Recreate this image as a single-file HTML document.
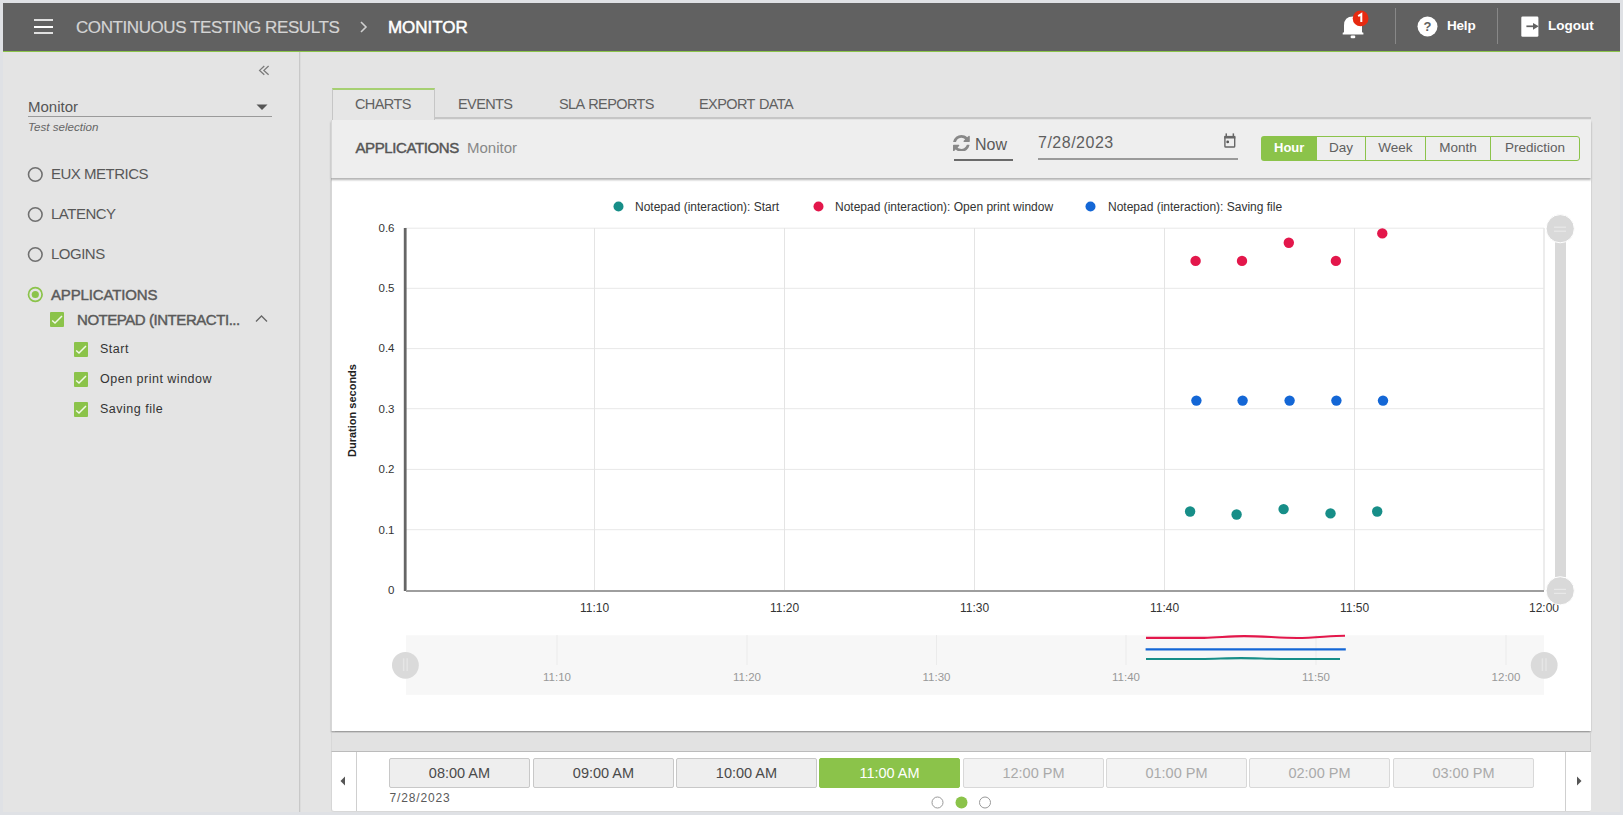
<!DOCTYPE html>
<html><head><meta charset="utf-8">
<style>
*{margin:0;padding:0;box-sizing:border-box}
html,body{width:1623px;height:815px;overflow:hidden;background:#dfe1e5;font-family:"Liberation Sans",sans-serif}
.a{position:absolute}
.t{position:absolute;white-space:nowrap;line-height:1}
#content{position:absolute;left:3px;top:52px;width:1617px;height:760px;background:#e4e4e4}
#hdr{position:absolute;left:3px;top:3px;width:1617px;height:47.5px;background:#616161}
#hline{position:absolute;left:3px;top:50.5px;width:1617px;height:1.7px;background:#8bc34a}
#sdiv{position:absolute;left:299px;top:52px;width:2px;height:760px;background:#c8c8c8;border-right:1px solid #dcdcdc}
.radio{position:absolute;width:15px;height:15px;border:1.5px solid #6a6a6a;border-radius:50%}
.side-t{font-size:15px;letter-spacing:-0.5px;color:#585858}
.cb{position:absolute;width:14px;height:15px;background:#8bc34a;border-radius:1px}
.cb svg{position:absolute;left:0;top:0}
.tab{position:absolute;top:96px;font-size:14.5px;letter-spacing:-0.6px;word-spacing:1px;color:#616161}
.btn{position:absolute;top:136px;height:25px;border:1.5px solid #8bc34a;border-left:none;background:#eeeeee;font-size:13.5px;color:#606060;text-align:center;line-height:21.5px}
.tb{position:absolute;top:758px;width:141px;height:30px;border:1px solid #c8c8c8;border-radius:2px;background:#eeeeee;font-size:14.5px;color:#4a4a4a;text-align:center;line-height:28px}
.tb.dis{color:#aaa;background:#f3f3f3;border-color:#d8d8d8}
</style></head><body>
<div id="content"></div>
<div id="hdr">
  <div class="a" style="left:31px;top:15.6px;width:19px;height:2px;background:#e0e0e0"></div>
  <div class="a" style="left:31px;top:22.5px;width:19px;height:2px;background:#fff"></div>
  <div class="a" style="left:31px;top:29.4px;width:19px;height:2px;background:#e0e0e0"></div>
  <div class="t" style="left:73px;top:16px;font-size:17px;letter-spacing:-0.42px;-webkit-text-stroke:0.2px #d4d4d4;color:#d4d4d4">CONTINUOUS TESTING RESULTS</div>
  <svg class="a" style="left:355px;top:17px" width="12" height="14" viewBox="0 0 12 14"><path d="M3 2 L8 7 L3 12" fill="none" stroke="#cfcfcf" stroke-width="1.6"/></svg>
  <div class="t" style="left:385px;top:16px;font-size:17px;letter-spacing:-0.05px;-webkit-text-stroke:0.5px #fff;color:#fff">MONITOR</div>
</div>
<div id="hline"></div>
<div id="sdiv"></div>

<!-- header right -->
<svg class="a" style="left:1335px;top:6px" width="40" height="40" viewBox="1335 6 40 40">
  <path d="M1344 32.2 L1344 25.5 Q1344 16.5 1353 16.5 Q1362 16.5 1362 25.5 L1362 32.2 L1363.4 32.7 L1363.4 34.4 L1342.7 34.4 L1342.7 32.7 Z" fill="#fff"/>
  <rect x="1350.6" y="35.6" width="4.7" height="2.6" rx="1.2" fill="#fff"/>
  <circle cx="1360.6" cy="18.4" r="7.9" fill="#e62a10"/>
  <path d="M1358.2 16.2 L1361.3 14.2 L1361.3 22" fill="none" stroke="#fff" stroke-width="2" stroke-linejoin="miter"/>
</svg>
<div class="a" style="left:1395px;top:8px;width:1px;height:36px;background:#888"></div>
<svg class="a" style="left:1417px;top:16px" width="22" height="22" viewBox="0 0 22 22">
  <circle cx="10.5" cy="10.5" r="10" fill="#fff"/>
  <text x="10.6" y="15" font-size="13" font-weight="bold" fill="#616161" text-anchor="middle" font-family="Liberation Sans">?</text>
</svg>
<div class="t" style="left:1447px;top:19px;font-size:13.5px;font-weight:bold;letter-spacing:-0.2px;color:#fff">Help</div>
<div class="a" style="left:1497px;top:8px;width:1px;height:36px;background:#888"></div>
<svg class="a" style="left:1520px;top:15px" width="20" height="23" viewBox="0 0 20 23">
  <rect x="1.3" y="1.5" width="17.1" height="20.2" rx="1.3" fill="#fff"/>
  <path d="M6.4 11.3 L14 11.3" fill="none" stroke="#616161" stroke-width="1.7"/>
  <path d="M13 7.9 L18.7 11.3 L13 14.7 Z" fill="#616161"/>
</svg>
<div class="t" style="left:1548px;top:19px;font-size:13.5px;font-weight:bold;color:#fff">Logout</div>

<!-- sidebar -->
<svg class="a" style="left:256px;top:62px" width="16" height="16" viewBox="256 62 16 16"><path d="M264.3 66 L259.6 70.4 L264.3 74.8 M268.6 66 L263.9 70.4 L268.6 74.8" fill="none" stroke="#7a7a7a" stroke-width="1.3"/></svg>
<div class="t" style="left:28px;top:99px;font-size:15px;color:#555">Monitor</div>
<svg class="a" style="left:256px;top:104px" width="12" height="7" viewBox="0 0 12 7"><path d="M0.5 0.5 L11.5 0.5 L6 6 Z" fill="#555"/></svg>
<div class="a" style="left:28px;top:115.5px;width:244px;height:1px;background:#9a9a9a"></div>
<div class="t" style="left:28px;top:121px;font-size:11.6px;font-style:italic;color:#666">Test selection</div>

<svg class="a" style="left:26px;top:164.5px" width="19" height="19" viewBox="0 0 19 19"><circle cx="9.3" cy="9.5" r="6.8" fill="none" stroke="#707070" stroke-width="1.6"/></svg>
<div class="t side-t" style="left:51px;top:166px">EUX METRICS</div>
<svg class="a" style="left:26px;top:204.5px" width="19" height="19" viewBox="0 0 19 19"><circle cx="9.3" cy="9.5" r="6.8" fill="none" stroke="#707070" stroke-width="1.6"/></svg>
<div class="t side-t" style="left:51px;top:206px">LATENCY</div>
<svg class="a" style="left:26px;top:244.5px" width="19" height="19" viewBox="0 0 19 19"><circle cx="9.3" cy="9.5" r="6.8" fill="none" stroke="#707070" stroke-width="1.6"/></svg>
<div class="t side-t" style="left:51px;top:246px">LOGINS</div>
<svg class="a" style="left:26px;top:284.7px" width="19" height="19" viewBox="0 0 19 19"><circle cx="9.3" cy="9.5" r="6.8" fill="none" stroke="#8bc34a" stroke-width="1.7"/><circle cx="9.3" cy="9.5" r="3.6" fill="#8bc34a"/></svg>
<div class="t side-t" style="left:51px;top:286.5px;letter-spacing:-0.15px;-webkit-text-stroke:0.45px #5a5a5a;color:#5a5a5a">APPLICATIONS</div>

<div class="cb" style="left:50px;top:312px"><svg width="14" height="15" viewBox="0 0 14 15"><path d="M2.2 8.4 L5 11.1 L12 3.9" fill="none" stroke="#f2f9e8" stroke-width="1.4"/></svg></div>
<div class="t side-t" style="left:77px;top:311.5px;letter-spacing:-0.45px;-webkit-text-stroke:0.45px #5a5a5a;color:#5a5a5a">NOTEPAD (INTERACTI...</div>
<svg class="a" style="left:255px;top:314px" width="13" height="9" viewBox="0 0 13 9"><path d="M1 7.5 L6.5 2 L12 7.5" fill="none" stroke="#666" stroke-width="1.3"/></svg>

<div class="cb" style="left:74px;top:342px"><svg width="14" height="15" viewBox="0 0 14 15"><path d="M2.2 8.4 L5 11.1 L12 3.9" fill="none" stroke="#f2f9e8" stroke-width="1.4"/></svg></div>
<div class="t" style="left:100px;top:343px;font-size:12.5px;letter-spacing:0.5px;color:#333">Start</div>
<div class="cb" style="left:74px;top:372px"><svg width="14" height="15" viewBox="0 0 14 15"><path d="M2.2 8.4 L5 11.1 L12 3.9" fill="none" stroke="#f2f9e8" stroke-width="1.4"/></svg></div>
<div class="t" style="left:100px;top:373px;font-size:12.5px;letter-spacing:0.5px;color:#333">Open print window</div>
<div class="cb" style="left:74px;top:402px"><svg width="14" height="15" viewBox="0 0 14 15"><path d="M2.2 8.4 L5 11.1 L12 3.9" fill="none" stroke="#f2f9e8" stroke-width="1.4"/></svg></div>
<div class="t" style="left:100px;top:403px;font-size:12.5px;letter-spacing:0.5px;color:#333">Saving file</div>

<!-- tabs -->
<div class="a" style="left:332px;top:117px;width:1259px;height:1.5px;background:#c6c6c6"></div>
<div class="a" style="left:331.5px;top:88px;width:103px;height:31.5px;background:#e6e6e6;border:1.5px solid #c6c6c6;border-top:2px solid #a6d072;border-bottom:none"></div>
<div class="t tab" style="left:355px;top:96.5px">CHARTS</div>
<div class="t tab" style="left:458px;top:97px">EVENTS</div>
<div class="t tab" style="left:559px;top:97px">SLA REPORTS</div>
<div class="t tab" style="left:699px;top:97px">EXPORT DATA</div>

<!-- panel header -->
<div class="a" style="left:331px;top:178px;width:1260px;height:552.5px;background:#fff;border-left:1px solid #d6d6d6;box-shadow:0 1.5px 1.5px rgba(0,0,0,0.3)"></div>
<div class="a" style="left:331px;top:119.5px;width:1260px;height:58px;background:#eeeeee;border-left:1px solid #d6d6d6;box-shadow:0 2px 2px rgba(0,0,0,0.3)"></div>
<div class="t" style="left:355.5px;top:140.3px;font-size:15px;letter-spacing:-0.4px;-webkit-text-stroke:0.45px #555;color:#555">APPLICATIONS</div>
<div class="t" style="left:467px;top:140px;font-size:15px;color:#888">Monitor</div>

<svg class="a" style="left:953.3px;top:134.6px" width="16.8" height="16.8" viewBox="0 0 1536 1536"><path fill="#888" d="M1511 928q0 5-1 7-64 268-268 434.5t-478 166.5q-146 0-282.5-55t-243.5-157l-129 129q-19 19-45 19t-45-19-19-45v-448q0-26 19-45t45-19h448q26 0 45 19t19 45-19 45l-137 137q71 66 161 102t187 36q134 0 250-65t186-179q11-17 53-117 8-23 30-23h192q13 0 22.5 9.5t9.5 22.5zm25-800v448q0 26-19 45t-45 19h-448q-26 0-45-19t-19-45 19-45l138-138q-148-137-349-137-134 0-250 65t-186 179q-11 17-53 117-8 23-30 23h-199q-13 0-22.5-9.5t-9.5-22.5v-7q65-268 270-434.5t480-166.5q146 0 284 55.5t245 156.5l130-129q19-19 45-19t45 19 19 45z"/></svg>
<div class="t" style="left:975px;top:137px;font-size:16px;color:#5a5a5a">Now</div>
<div class="a" style="left:954px;top:159.3px;width:59px;height:1.7px;background:#6a6a6a"></div>
<div class="t" style="left:1038px;top:134.5px;font-size:16px;letter-spacing:0.5px;color:#5e5e5e">7/28/2023</div>
<div class="a" style="left:1038px;top:158.2px;width:200px;height:1.7px;background:#9a9a9a"></div>
<svg class="a" style="left:1222px;top:132px" width="15" height="17" viewBox="0 0 15 17">
  <rect x="2.9" y="4.6" width="9.8" height="10.4" rx="0.8" fill="none" stroke="#666" stroke-width="1.4"/>
  <rect x="2.2" y="3.9" width="11.2" height="2.6" fill="#666"/>
  <rect x="3.5" y="1.4" width="1.5" height="3" fill="#666"/><rect x="10.6" y="1.4" width="1.5" height="3" fill="#666"/>
  <circle cx="5.7" cy="9.9" r="1.4" fill="#555"/>
</svg>

<!-- button group -->
<div class="a" style="left:1261px;top:136px;width:56px;height:25px;background:#8bc34a;border-radius:3px 0 0 3px"></div>
<div class="t" style="left:1274px;top:140.8px;font-size:13px;font-weight:bold;color:#fff">Hour</div>
<div class="btn" style="left:1317px;width:49px">Day</div>
<div class="btn" style="left:1365px;width:61px;border-left:1.5px solid #8bc34a">Week</div>
<div class="btn" style="left:1425px;width:66px;border-left:1.5px solid #8bc34a">Month</div>
<div class="btn" style="left:1490px;width:90px;border-left:1.5px solid #8bc34a;border-radius:0 3px 3px 0">Prediction</div>

<!-- chart -->
<svg class="a" style="left:0;top:0" width="1623" height="815" viewBox="0 0 1623 815" font-family="Liberation Sans">
<line x1="405" y1="228.2" x2="1544" y2="228.2" stroke="#e8e8e8" stroke-width="1"/>
<line x1="405" y1="288.3" x2="1544" y2="288.3" stroke="#e8e8e8" stroke-width="1"/>
<line x1="405" y1="348.6" x2="1544" y2="348.6" stroke="#e8e8e8" stroke-width="1"/>
<line x1="405" y1="408.7" x2="1544" y2="408.7" stroke="#e8e8e8" stroke-width="1"/>
<line x1="405" y1="469.4" x2="1544" y2="469.4" stroke="#e8e8e8" stroke-width="1"/>
<line x1="405" y1="529.7" x2="1544" y2="529.7" stroke="#e8e8e8" stroke-width="1"/>
<line x1="594.5" y1="228" x2="594.5" y2="590" stroke="#e4e4e4" stroke-width="1"/>
<line x1="784.5" y1="228" x2="784.5" y2="590" stroke="#e4e4e4" stroke-width="1"/>
<line x1="974.5" y1="228" x2="974.5" y2="590" stroke="#e4e4e4" stroke-width="1"/>
<line x1="1164.5" y1="228" x2="1164.5" y2="590" stroke="#e4e4e4" stroke-width="1"/>
<line x1="1354.5" y1="228" x2="1354.5" y2="590" stroke="#e4e4e4" stroke-width="1"/>
<line x1="1544" y1="228" x2="1544" y2="590" stroke="#e8e8e8" stroke-width="1.6"/>
<line x1="405.2" y1="228" x2="405.2" y2="591" stroke="#666" stroke-width="2.8"/>
<line x1="406" y1="591" x2="1544" y2="591" stroke="#9e9e9e" stroke-width="1.8"/>
<text x="394.5" y="232.0" font-size="11.5" fill="#333" text-anchor="end">0.6</text>
<text x="394.5" y="292.1" font-size="11.5" fill="#333" text-anchor="end">0.5</text>
<text x="394.5" y="352.4" font-size="11.5" fill="#333" text-anchor="end">0.4</text>
<text x="394.5" y="412.5" font-size="11.5" fill="#333" text-anchor="end">0.3</text>
<text x="394.5" y="473.2" font-size="11.5" fill="#333" text-anchor="end">0.2</text>
<text x="394.5" y="533.5" font-size="11.5" fill="#333" text-anchor="end">0.1</text>
<text x="394.5" y="593.9" font-size="11.5" fill="#333" text-anchor="end">0</text>
<text x="594.5" y="612" font-size="12" fill="#333" text-anchor="middle">11:10</text>
<text x="784.5" y="612" font-size="12" fill="#333" text-anchor="middle">11:20</text>
<text x="974.5" y="612" font-size="12" fill="#333" text-anchor="middle">11:30</text>
<text x="1164.5" y="612" font-size="12" fill="#333" text-anchor="middle">11:40</text>
<text x="1354.5" y="612" font-size="12" fill="#333" text-anchor="middle">11:50</text>
<text x="1544" y="612" font-size="12" fill="#333" text-anchor="middle">12:00</text>
<text transform="translate(355.6,410.5) rotate(-90)" font-size="11" font-weight="bold" fill="#222" text-anchor="middle">Duration seconds</text>
<circle cx="618.5" cy="206.5" r="5" fill="#178e88"/>
<text x="635" y="210.5" font-size="12" fill="#333">Notepad (interaction): Start</text>
<circle cx="818.5" cy="206.5" r="5" fill="#e3174b"/>
<text x="835" y="210.5" font-size="12" fill="#333">Notepad (interaction): Open print window</text>
<circle cx="1090.5" cy="206.5" r="5" fill="#1467d6"/>
<text x="1108" y="210.5" font-size="12" fill="#333">Notepad (interaction): Saving file</text>
<circle cx="1195.6" cy="260.9" r="5.2" fill="#e3174b"/>
<circle cx="1242" cy="260.9" r="5.2" fill="#e3174b"/>
<circle cx="1288.8" cy="242.7" r="5.2" fill="#e3174b"/>
<circle cx="1335.9" cy="260.9" r="5.2" fill="#e3174b"/>
<circle cx="1382.3" cy="233.4" r="5.2" fill="#e3174b"/>
<circle cx="1196.4" cy="400.6" r="5.2" fill="#1467d6"/>
<circle cx="1242.6" cy="400.6" r="5.2" fill="#1467d6"/>
<circle cx="1289.6" cy="400.6" r="5.2" fill="#1467d6"/>
<circle cx="1336.4" cy="400.6" r="5.2" fill="#1467d6"/>
<circle cx="1383" cy="400.6" r="5.2" fill="#1467d6"/>
<circle cx="1190.1" cy="511.5" r="5.2" fill="#178e88"/>
<circle cx="1236.6" cy="514.5" r="5.2" fill="#178e88"/>
<circle cx="1283.6" cy="509.1" r="5.2" fill="#178e88"/>
<circle cx="1330.5" cy="513.4" r="5.2" fill="#178e88"/>
<circle cx="1377.2" cy="511.5" r="5.2" fill="#178e88"/>
<rect x="1555" y="242" width="11" height="335" fill="#d9d9d9"/>
<circle cx="1560.2" cy="228.7" r="14.1" fill="#d9d9d9" stroke="#fff" stroke-width="1"/>
<line x1="1554" y1="227.2" x2="1566" y2="227.2" stroke="#ebebeb" stroke-width="1"/>
<line x1="1554" y1="231.2" x2="1566" y2="231.2" stroke="#ebebeb" stroke-width="1"/>
<circle cx="1560.2" cy="590.8" r="14.1" fill="#d9d9d9" stroke="#fff" stroke-width="1"/>
<line x1="1554" y1="589.3" x2="1566" y2="589.3" stroke="#ebebeb" stroke-width="1"/>
<line x1="1554" y1="593.3" x2="1566" y2="593.3" stroke="#ebebeb" stroke-width="1"/>
<rect x="406" y="635.3" width="1138" height="59.5" fill="#f7f7f7"/>
<line x1="557" y1="635" x2="557" y2="665" stroke="#ebebeb" stroke-width="1"/>
<text x="557" y="681" font-size="11.5" fill="#999" text-anchor="middle">11:10</text>
<line x1="747" y1="635" x2="747" y2="665" stroke="#ebebeb" stroke-width="1"/>
<text x="747" y="681" font-size="11.5" fill="#999" text-anchor="middle">11:20</text>
<line x1="936.5" y1="635" x2="936.5" y2="665" stroke="#ebebeb" stroke-width="1"/>
<text x="936.5" y="681" font-size="11.5" fill="#999" text-anchor="middle">11:30</text>
<line x1="1126" y1="635" x2="1126" y2="665" stroke="#ebebeb" stroke-width="1"/>
<text x="1126" y="681" font-size="11.5" fill="#999" text-anchor="middle">11:40</text>
<line x1="1316" y1="635" x2="1316" y2="665" stroke="#ebebeb" stroke-width="1"/>
<text x="1316" y="681" font-size="11.5" fill="#999" text-anchor="middle">11:50</text>
<line x1="1506" y1="635" x2="1506" y2="665" stroke="#ebebeb" stroke-width="1"/>
<text x="1506" y="681" font-size="11.5" fill="#999" text-anchor="middle">12:00</text>
<path d="M1146 637.9 L1204 637.9 C1220 637.4 1230 636.1 1244 636.1 C1262 636.1 1280 638 1297 638 C1315 638 1330 635.8 1345 635.7" fill="none" stroke="#e3174b" stroke-width="2.1"/>
<line x1="1145.6" y1="649.3" x2="1345.8" y2="649.3" stroke="#1467d6" stroke-width="2.2"/>
<path d="M1146 659 L1200 659 C1220 658.6 1230 658.1 1241 658.1 C1255 658.1 1270 659 1290 659 L1340 659" fill="none" stroke="#178e88" stroke-width="2.1"/>
<circle cx="405.4" cy="665.3" r="13.4" fill="#dadada"/>
<line x1="403.59999999999997" y1="658.3" x2="403.59999999999997" y2="671" stroke="#e6e6e6" stroke-width="1.4"/>
<line x1="407.2" y1="658.3" x2="407.2" y2="671" stroke="#e6e6e6" stroke-width="1.4"/>
<circle cx="1544.2" cy="665.3" r="13.4" fill="#dadada"/>
<line x1="1542.4" y1="658.3" x2="1542.4" y2="671" stroke="#e6e6e6" stroke-width="1.4"/>
<line x1="1546.0" y1="658.3" x2="1546.0" y2="671" stroke="#e6e6e6" stroke-width="1.4"/>
</svg>
<div class="a" style="left:331px;top:732.5px;width:1260px;height:18.5px;background:#e2e2e2;border-right:1px solid #d2d2d2;border-left:1px solid #d8d8d8"></div>
<!-- timeline -->
<div class="a" style="left:331px;top:751px;width:1260px;height:61px;background:#fff;border-top:1px solid #bbb;border-left:1px solid #d6d6d6;border-bottom:1px solid #d8d8d8;border-radius:0 0 2px 3px"></div>
<div class="a" style="left:356px;top:752px;width:1px;height:59px;background:#cfcfcf"></div>
<div class="a" style="left:1565px;top:752px;width:1px;height:59px;background:#cfcfcf"></div>
<svg class="a" style="left:339px;top:776px" width="8" height="10" viewBox="0 0 8 10"><path d="M6 0.5 L1.5 5 L6 9.5 Z" fill="#555"/></svg>
<svg class="a" style="left:1575px;top:776px" width="8" height="10" viewBox="0 0 8 10"><path d="M2 0.5 L6.5 5 L2 9.5 Z" fill="#555"/></svg>
<div class="tb" style="left:389px">08:00 AM</div>
<div class="tb" style="left:533px">09:00 AM</div>
<div class="tb" style="left:676px">10:00 AM</div>
<div class="tb" style="left:819px;background:#8bc34a;border-color:#8bc34a;color:#fff">11:00 AM</div>
<div class="tb dis" style="left:963px">12:00 PM</div>
<div class="tb dis" style="left:1106px">01:00 PM</div>
<div class="tb dis" style="left:1249px">02:00 PM</div>
<div class="tb dis" style="left:1393px">03:00 PM</div>
<div class="t" style="left:389.5px;top:792px;font-size:12px;letter-spacing:0.85px;color:#5a5a5a">7/28/2023</div>
<svg class="a" style="left:928px;top:795px" width="66" height="16" viewBox="0 0 66 16">
  <circle cx="9.5" cy="7.5" r="5.5" fill="#fff" stroke="#999" stroke-width="1"/>
  <circle cx="33.5" cy="7.5" r="6" fill="#8bc34a"/>
  <circle cx="57" cy="7.5" r="5.5" fill="#fff" stroke="#999" stroke-width="1"/>
</svg>
</body></html>
